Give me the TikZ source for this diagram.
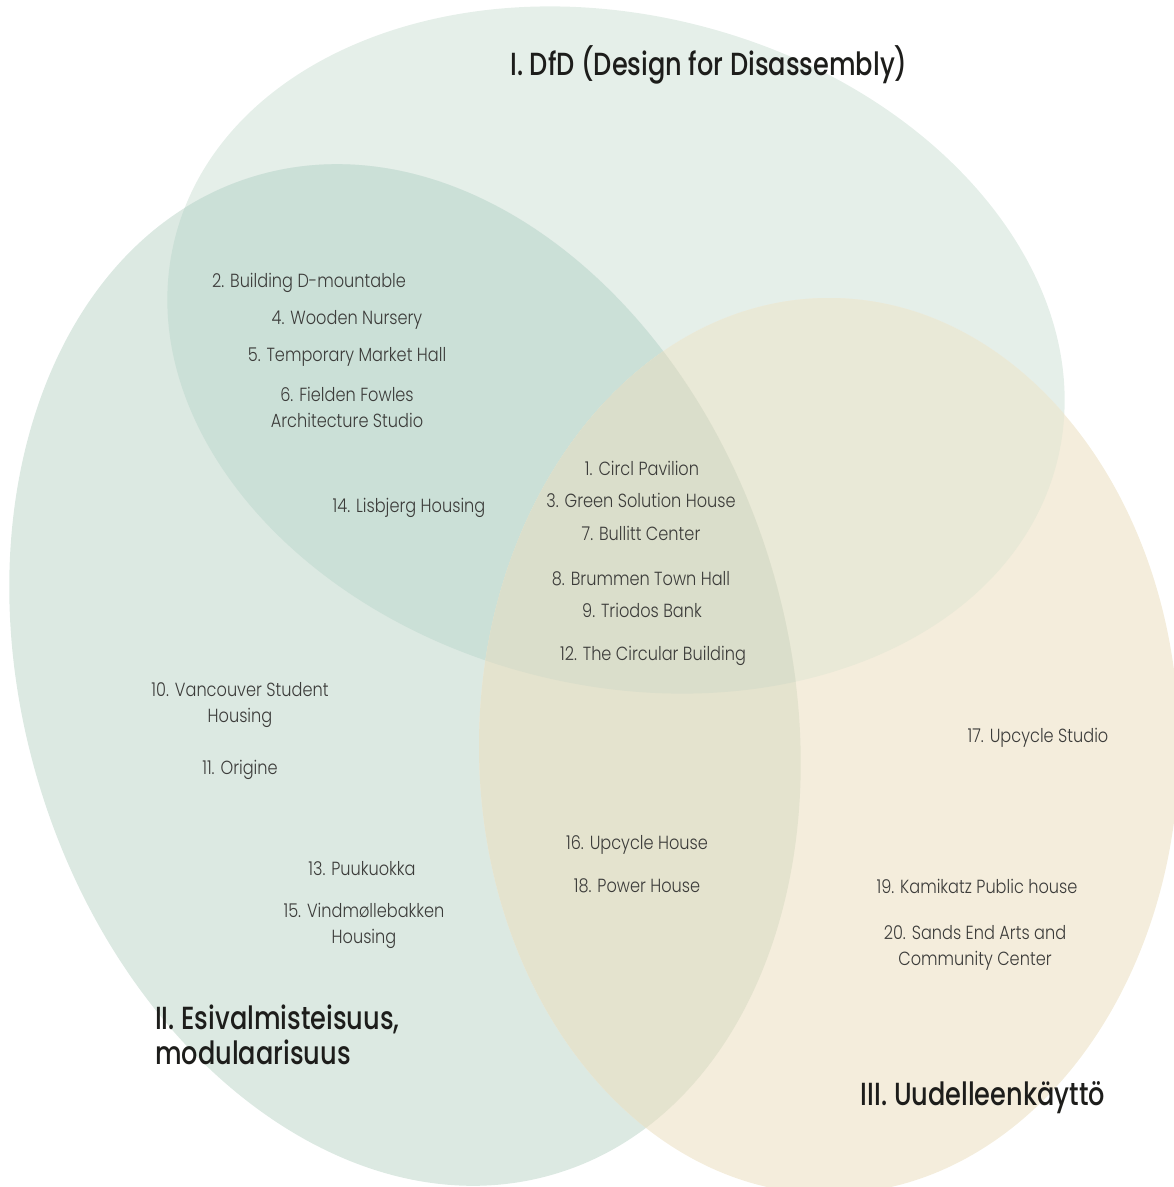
\documentclass[tikz,border=0pt]{standalone}
\usepackage{fontspec}
\usetikzlibrary{positioning}
\newfontfamily\itemfont[FakeStretch=0.85]{Poppins Light}
\newfontfamily\headfont[FakeStretch=0.8]{Poppins Medium}
\definecolor{dfdcolor}{RGB}{229,239,233}
\definecolor{modcolor}{RGB}{220,233,226}
\definecolor{reusecolor}{RGB}{244,237,220}
\definecolor{dfdmodcolor}{RGB}{203,224,215}
\definecolor{dfdreusecolor}{RGB}{233,233,215}
\definecolor{modreusecolor}{RGB}{228,227,206}
\definecolor{allcolor}{RGB}{218,222,203}
\definecolor{itemtext}{RGB}{60,60,58}
\definecolor{headtext}{RGB}{29,29,27}

\begin{document}
\begin{tikzpicture}[
    x=1pt, y=-1pt,
    item/.style={inner sep=0pt, align=center, text=itemtext, font=\itemfont\fontsize{19}{26}\selectfont},
    head/.style={inner sep=0pt, text=headtext, font=\headfont\fontsize{32}{35}\selectfont},
    dfd/.style={rotate around={-14.3:(616,350)}},
    mod/.style={rotate around={16.9:(405,675)}}
]
    \clip (0,0) rectangle (1174,1187);

    % Sets
    \fill[dfdcolor, dfd] (616,350) ellipse [x radius=455, y radius=335];
    \fill[modcolor, mod] (405,675) ellipse [x radius=382, y radius=521];
    \fill[reusecolor] (829,746) ellipse [x radius=350, y radius=448];

    % Overlaps
    \begin{scope}
        \clip[dfd] (616,350) ellipse [x radius=455, y radius=335];
        \fill[dfdmodcolor, mod] (405,675) ellipse [x radius=382, y radius=521];
        \fill[dfdreusecolor] (829,746) ellipse [x radius=350, y radius=448];
    \end{scope}
    \begin{scope}
        \clip[mod] (405,675) ellipse [x radius=382, y radius=521];
        \fill[modreusecolor] (829,746) ellipse [x radius=350, y radius=448];
        \clip[dfd] (616,350) ellipse [x radius=455, y radius=335];
        \fill[allcolor] (829,746) ellipse [x radius=350, y radius=448];
    \end{scope}

    % Titles
    \node[head] (dfdtitle) at (709,65) {I. DfD (Design for Disassembly)};
    \node[head, anchor=west, align=left] (modtitle) at (155,1035) {II. Esivalmisteisuus,\\modulaarisuus};
    \node[head] (reusetitle) at (983,1098) {III. Uudelleenkäyttö};

    % DfD + modular
    \node[item] (p2) at (309,283) {2. Building D-mountable};
    \node[item] (p4) at (347,320) {4. Wooden Nursery};
    \node[item] (p5) at (347,357) {5. Temporary Market Hall};
    \node[item] (p6) at (347,407) {6. Fielden Fowles\\Architecture Studio};
    \node[item] (p14) at (409,508) {14. Lisbjerg Housing};

    % All three
    \node[item] (p1) at (642,468) {1. Circl Pavilion};
    \node[item] (p3) at (641,500) {3. Green Solution House};
    \node[item] (p7) at (641,533) {7. Bullitt Center};
    \node[item] (p8) at (641,579) {8. Brummen Town Hall};
    \node[item] (p9) at (642,610) {9. Triodos Bank};
    \node[item] (p12) at (653,656) {12. The Circular Building};

    % Modular only
    \node[item] (p10) at (240,705) {10. Vancouver Student\\Housing};
    \node[item] (p11) at (240,770) {11. Origine};
    \node[item] (p13) at (362,869) {13. Puukuokka};
    \node[item] (p15) at (364,926) {15. Vindmøllebakken\\Housing};

    % Modular + reuse
    \node[item] (p16) at (637,845) {16. Upcycle House};
    \node[item] (p18) at (637,886) {18. Power House};

    % Reuse only
    \node[item] (p17) at (1038,738) {17. Upcycle Studio};
    \node[item] (p19) at (977,886) {19. Kamikatz Public house};
    \node[item] (p20) at (975,948) {20. Sands End Arts and\\Community Center};
\end{tikzpicture}
\end{document}
